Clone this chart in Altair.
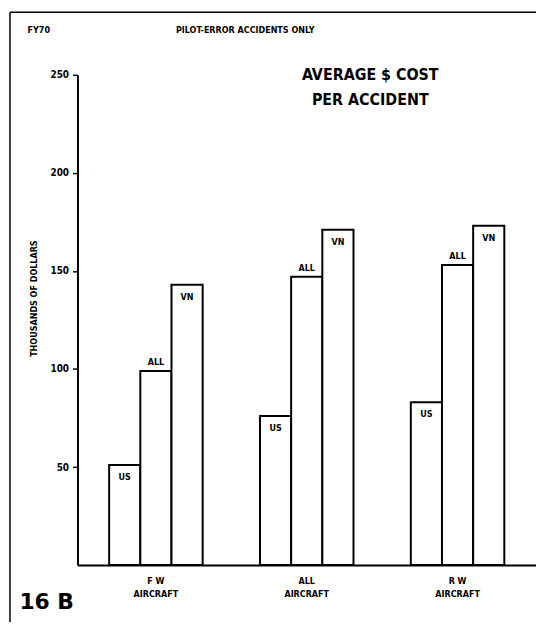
import altair as alt
import pandas as pd

# ---- data ----
groups = ["FW", "ALL", "RW"]
series = ["US", "ALL", "VN"]
us_cost = [51, 76, 83]
all_cost = [99, 147, 153]
vn_cost = [143, 171, 173]
y_ticks = [50, 100, 150, 200, 250]

rows = []
for i, g in enumerate(groups):
    for s, vals in zip(series, [us_cost, all_cost, vn_cost]):
        rows.append({"group": g, "series": s, "value": vals[i]})
df = pd.DataFrame(rows)

FONT = "DejaVu Sans Condensed, DejaVu Sans, sans-serif"
one = pd.DataFrame({"a": [0]})

base = alt.Chart(df).encode(
    x=alt.X(
        "group:N",
        sort=groups,
        scale=alt.Scale(paddingInner=0.38, paddingOuter=0.21),
        axis=alt.Axis(
            title=None,
            ticks=False,
            labelAngle=0,
            labelPadding=12,
            labelFont=FONT,
            labelFontWeight="bold",
            labelFontSize=9,
            labelLineHeight=13,
            labelColor="black",
            domainColor="black",
            domainWidth=2,
            labelExpr="[datum.value == 'FW' ? 'F W' : (datum.value == 'RW' ? 'R W' : 'ALL'), 'AIRCRAFT']",
        ),
    ),
    xOffset=alt.XOffset(
        "series:N", sort=series, scale=alt.Scale(paddingInner=0, paddingOuter=0)
    ),
    y=alt.Y(
        "value:Q",
        scale=alt.Scale(domain=[0, 250], nice=False),
        axis=alt.Axis(
            values=y_ticks,
            grid=False,
            tickSize=5,
            tickColor="black",
            tickWidth=1.5,
            labelPadding=4,
            labelFont=FONT,
            labelFontWeight="bold",
            labelFontSize=10,
            labelColor="black",
            domainColor="black",
            domainWidth=2,
            title="THOUSANDS OF DOLLARS",
            titleFont=FONT,
            titleFontWeight="bold",
            titleFontSize=9,
            titleColor="black",
            titleX=-44,
            titleY=225,
            titleAngle=270,
            titleAlign="center",
            titleBaseline="middle",
        ),
    ),
)

bars = base.mark_bar(fill="white", stroke="black", strokeWidth=2)

labels = []
for s, dy in [("US", 12), ("ALL", -9), ("VN", 12)]:
    labels.append(
        base.mark_text(
            dy=dy, font=FONT, fontWeight="bold", fontSize=9, color="black"
        )
        .encode(text="series:N")
        .transform_filter(alt.datum.series == s)
    )

def note(txt, x, y, size, font=FONT, align="center"):
    return (
        alt.Chart(one)
        .mark_text(
            text=txt,
            font=font,
            fontWeight="bold",
            fontSize=size,
            color="black",
            align=align,
            baseline="middle",
        )
        .encode(x=alt.value(x), y=alt.value(y))
    )

notes = [
    note("FY70", -39, -45, 9),
    note("PILOT-ERROR ACCIDENTS ONLY", 169, -45, 9),
    note("AVERAGE $ COST", 295, 0, 16),
    note("PER ACCIDENT", 295, 25, 16),
    note("16 B", -31, 531, 22, font="DejaVu Sans"),
]

frame_left = alt.Chart(one).mark_rule(color="black", strokeWidth=1.5).encode(
    x=alt.value(-68), y=alt.value(-63), y2=alt.value(560)
)
frame_top = alt.Chart(one).mark_rule(color="black", strokeWidth=1.5).encode(
    x=alt.value(-68), x2=alt.value(470), y=alt.value(-63)
)

chart = (
    alt.layer(bars, *labels, *notes, frame_left, frame_top)
    .properties(
        width=462,
        height=494,
        background="white",
        autosize=alt.AutoSizeParams(type="none"),
        padding={"left": 70, "top": 65, "right": 0, "bottom": 55},
    )
    .configure_view(stroke=None)
)

chart.save("out.html", embed_options={"renderer": "svg", "actions": False})
